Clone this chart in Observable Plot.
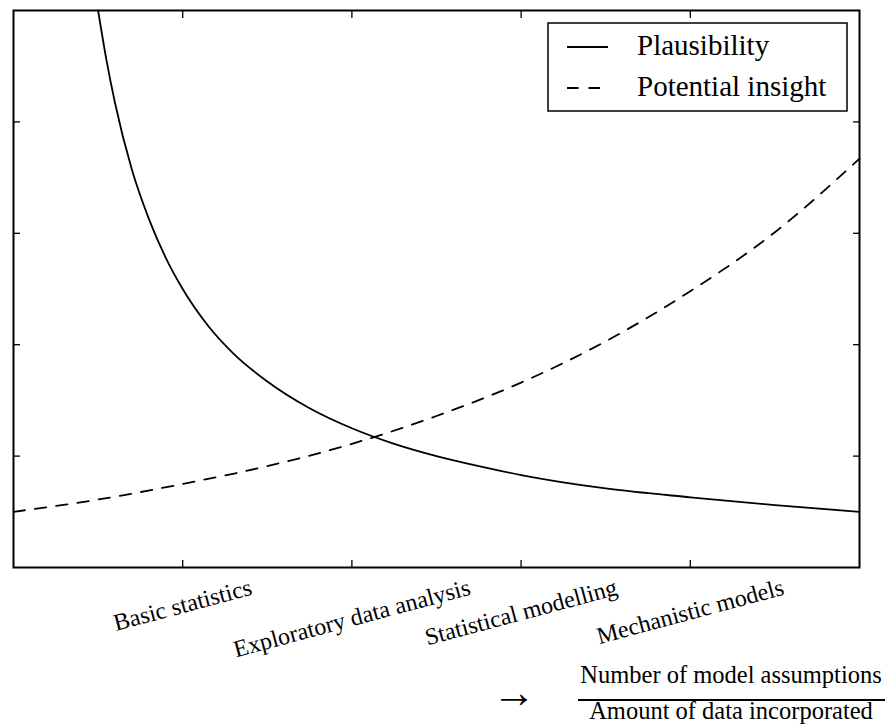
<!DOCTYPE html>
<html>
<head>
<meta charset="utf-8">
<script src="https://cdn.jsdelivr.net/npm/d3@7"></script>
<script src="https://cdn.jsdelivr.net/npm/@observablehq/plot@0.6"></script>
<style>
  body { margin: 0; background: #fff; }
  #chart { position: relative; width: 891px; height: 726px; font-family: "Liberation Serif"; }
  #chart svg { display: block; }
  #overlay { position: absolute; left: 0; top: 0; pointer-events: none; }
</style>
</head>
<body>
<div id="chart"></div>
<script>
// Tick positions and the method categories placed under them
const xTicks = [1, 2, 3, 4];
const yTicks = [1, 2, 3, 4];
const categories = ["Basic statistics", "Exploratory data analysis", "Statistical modelling", "Mechanistic models"];

// Plausibility falls steeply as the ratio grows
const plausibilityX = [0.5, 0.55, 0.6, 0.7, 0.8, 0.9, 1.0, 1.15, 1.3, 1.5, 1.75, 2.0, 2.25, 2.5, 2.75, 3.0, 3.5, 4.0, 4.5, 5.0];
const plausibilityY = [5.0, 4.55, 4.17, 3.57, 3.13, 2.78, 2.50, 2.17, 1.92, 1.67, 1.43, 1.25, 1.11, 1.00, 0.91, 0.83, 0.71, 0.63, 0.56, 0.50];

// Potential insight rises with the ratio
const insightX = [0, 0.5, 1.0, 1.5, 2.0, 2.5, 3.0, 3.5, 4.0, 4.5, 5.0];
const insightY = [0.50, 0.61, 0.75, 0.91, 1.11, 1.36, 1.66, 2.03, 2.48, 3.01, 3.67];

const seriesNames = ["Plausibility", "Potential insight"];
const axisNumerator = "Number of model assumptions";
const axisDenominator = "Amount of data incorporated";

const plausibility = plausibilityX.map((x, i) => ({x, y: plausibilityY[i]}));
const insight = insightX.map((x, i) => ({x, y: insightY[i]}));

const W = 891, H = 726;
const margin = {top: 10, right: 32, bottom: 159, left: 13};
const fontFamily = "Liberation Serif";
const tickFont = 24;
const dash = "11.5,10";

// Rotated category labels: centred on their tick, top of the rotated box on one line
const ctx = document.createElement("canvas").getContext("2d");
ctx.font = `${tickFont}px "Liberation Serif"`;
const rot = 15 * Math.PI / 180;
const labelTop = 11;
function labelDy(text) {
  const w = ctx.measureText(text).width;
  const h = 0.72 * tickFont;
  return labelTop + (w * Math.sin(rot) + h * Math.cos(rot)) / 2;
}

const labelMarks = categories.map((c, i) =>
  Plot.text([c], {
    x: () => xTicks[i],
    text: d => d,
    frameAnchor: "bottom",
    dy: labelDy(c),
    rotate: -15,
    textAnchor: "middle",
    lineAnchor: "middle",
    fontSize: tickFont,
    fontFamily,
    fill: "black"
  })
);

const chart = Plot.plot({
  width: W,
  height: H,
  marginTop: margin.top,
  marginRight: margin.right,
  marginBottom: margin.bottom,
  marginLeft: margin.left,
  x: {domain: [0, 5]},
  y: {domain: [0, 5]},
  style: {fontFamily, background: "white", color: "black"},
  marks: [
    Plot.line(insight, {x: "x", y: "y", curve: "monotone-x", stroke: "black", strokeWidth: 1.8, strokeDasharray: dash}),
    Plot.line(plausibility, {x: "x", y: "y", curve: "monotone-x", stroke: "black", strokeWidth: 1.8}),
    Plot.axisX({anchor: "bottom", ticks: xTicks, tickSize: -7, tickFormat: () => "", label: null, strokeWidth: 1.3}),
    Plot.axisX({anchor: "top", ticks: xTicks, tickSize: -7, tickFormat: () => "", label: null, strokeWidth: 1.3}),
    Plot.axisY({anchor: "left", ticks: yTicks, tickSize: -7, tickFormat: () => "", label: null, strokeWidth: 1.3}),
    Plot.axisY({anchor: "right", ticks: yTicks, tickSize: -7, tickFormat: () => "", label: null, strokeWidth: 1.3}),
    Plot.frame({stroke: "black", strokeWidth: 2}),
    ...labelMarks
  ]
});

const root = document.getElementById("chart");
root.appendChild(chart);

// Legend box and the ratio caption under the axis
const ns = "http://www.w3.org/2000/svg";
const overlay = d3.select(root).append(() => document.createElementNS(ns, "svg"))
  .attr("id", "overlay").attr("width", W).attr("height", H)
  .attr("font-family", fontFamily);

const lg = overlay.append("g").attr("transform", "translate(548,23)");
lg.append("rect").attr("width", 299).attr("height", 88)
  .attr("fill", "white").attr("stroke", "black").attr("stroke-width", 1.5);
seriesNames.forEach((name, i) => {
  const yy = 24 + i * 41;
  lg.append("line").attr("x1", 19).attr("x2", 60).attr("y1", yy).attr("y2", yy)
    .attr("stroke", "black").attr("stroke-width", 1.8)
    .attr("stroke-dasharray", i === 1 ? dash : null);
  lg.append("text").attr("x", 89).attr("y", yy + 8).attr("font-size", 29)
    .attr("font-family", fontFamily).text(name);
});

const cap = overlay.append("g").attr("transform", "translate(731,0)");
cap.append("text").attr("x", 0).attr("y", 683).attr("text-anchor", "middle").attr("font-size", 24.5)
  .attr("font-family", fontFamily).text(axisNumerator);
cap.append("line").attr("x1", -153).attr("x2", 154).attr("y1", 700).attr("y2", 700).attr("stroke", "black").attr("stroke-width", 2);
cap.append("text").attr("x", 0).attr("y", 719).attr("text-anchor", "middle").attr("font-size", 24.5)
  .attr("font-family", fontFamily).text(axisDenominator);
overlay.append("text").attr("x", 514).attr("y", 707).attr("text-anchor", "middle").attr("font-size", 44)
  .attr("font-family", fontFamily).text("\u2192");
</script>
</body>
</html>
